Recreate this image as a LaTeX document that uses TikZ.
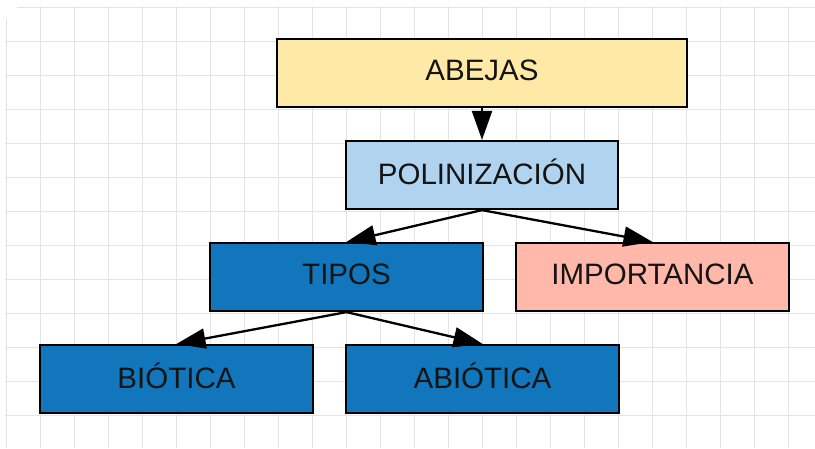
\documentclass[tikz,border=0pt]{standalone}
\usepackage{fontspec}
\setmainfont{Liberation Sans}
\usetikzlibrary{arrows.meta}
\definecolor{cyel}{HTML}{FFE9A6}
\definecolor{clblue}{HTML}{B0D4F0}
\definecolor{cblue}{HTML}{1176BC}
\definecolor{csalmon}{HTML}{FFB8AA}
\definecolor{cgrid}{HTML}{E4E4E4}
\definecolor{ctext}{HTML}{141414}
\tikzset{
  box/.style={draw=black, line width=2.2pt, minimum height=68pt, inner sep=0pt,
    font=\fontsize{29.5}{32}\selectfont, text=ctext},
  lbl/.style={font=\fontsize{29.5}{32}\selectfont, text=ctext, inner sep=0pt},
  conn/.style={line width=2.3pt, -{Triangle[length=29pt,width=20pt]}},
}
\begin{document}
\begin{tikzpicture}[x=1pt,y=-1pt]
\useasboundingbox (0,0) rectangle (815,448);
\fill[white] (0,0) rectangle (815,448);
\begin{scope}
\clip[rounded corners=20pt] (5,6) rectangle (830,460);
\foreach \k in {0,...,24} {\draw[cgrid, line width=1pt] ({6+34*\k},0) -- ({6+34*\k},448);}
\foreach \k in {0,...,13} {\draw[cgrid, line width=1pt] (0,{7+34*\k}) -- (815,{7+34*\k});}
\end{scope}
\node[box, fill=cyel, minimum width=410pt] (abejas) at (482,73) {};
\node[box, fill=clblue, minimum width=272pt] (poli) at (482,175) {};
\node[box, fill=cblue, minimum width=273pt] (tipos) at (346.5,277) {};
\node[box, fill=csalmon, minimum width=273pt] (imp) at (652.5,277) {};
\node[box, fill=cblue, minimum width=273pt] (bio) at (176.5,379) {};
\node[box, fill=cblue, minimum width=273pt] (abio) at (482.5,379) {};
\node[lbl] (tabejas) at ([yshift=3pt]abejas.center) {ABEJAS};
\node[lbl] (tpoli) at ([yshift=3pt]poli.center) {POLINIZACIÓN};
\node[lbl] (ttipos) at ([yshift=3pt]tipos.center) {TIPOS};
\node[lbl] (timp) at ([yshift=3pt]imp.center) {IMPORTANCIA};
\node[lbl] (tbio) at ([yshift=3pt]bio.center) {BIÓTICA};
\node[lbl] (tabio) at ([yshift=3pt]abio.center) {ABIÓTICA};
\draw[conn] (abejas.south) -- (poli.north);
\draw[conn] (poli.south) -- (tipos.north);
\draw[conn] (poli.south) -- (imp.north);
\draw[conn] (tipos.south) -- (bio.north);
\draw[conn] (tipos.south) -- (abio.north);
\end{tikzpicture}
\end{document}
